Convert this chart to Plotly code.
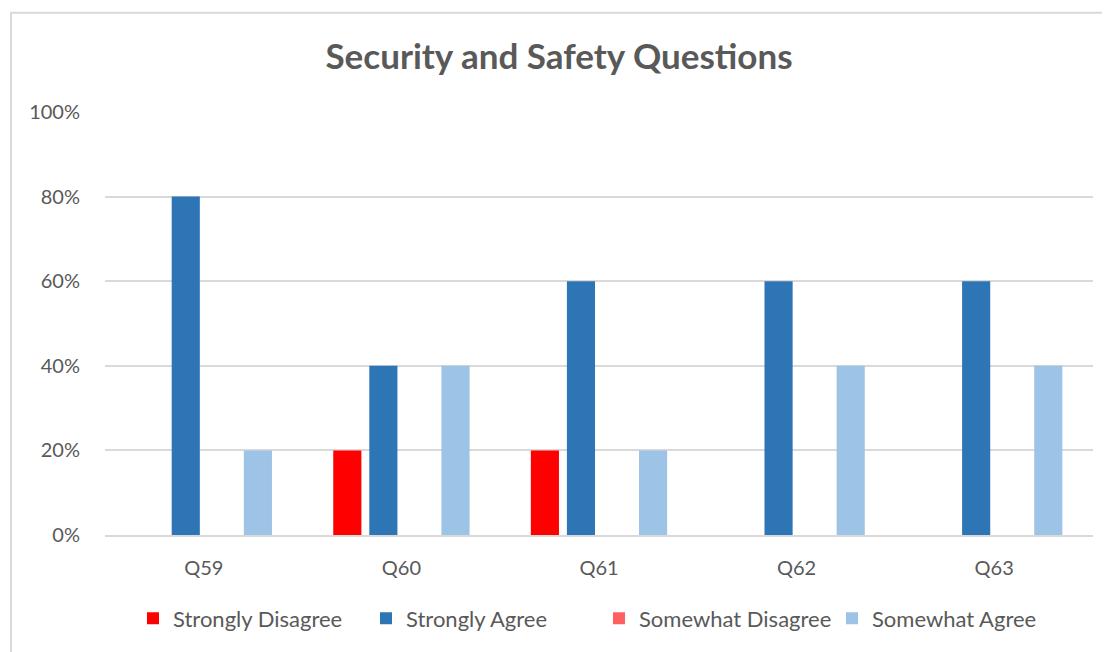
import plotly.graph_objects as go

categories = ["Q59", "Q60", "Q61", "Q62", "Q63"]
strongly_disagree = [0, 20, 20, 0, 0]
strongly_agree = [80, 40, 60, 60, 60]
somewhat_disagree = [0, 0, 0, 0, 0]
somewhat_agree = [20, 40, 20, 40, 40]
y_ticks = [0, 20, 40, 60, 80, 100]
y_tick_labels = ["0%", "20%", "40%", "60%", "80%", "100%"]

series = [
    ("Strongly Disagree", strongly_disagree, "#FF0000"),
    ("Strongly Agree", strongly_agree, "#2E75B6"),
    ("Somewhat Disagree", somewhat_disagree, "#FF5F5F"),
    ("Somewhat Agree", somewhat_agree, "#9DC3E6"),
]

FONT = "Lato, 'Open Sans', sans-serif"
OFF = 8  # page body margin
W, H = 1110 - OFF, 652 - OFF
ML, MR, MT, MB = 105 - OFF, 17, 112 - OFF, H - (538 - OFF)
PW, PH = W - ML - MR, H - MT - MB

fig = go.Figure()
for name, vals, col in series:
    fig.add_trace(go.Bar(x=categories, y=vals, name=name, marker=dict(color=col, line=dict(width=0))))

def px_to_paper_x(px):
    return (px - OFF - ML) / PW

def py_to_paper_y(py):
    return (H - MB - (py - OFF)) / PH

fig.update_layout(
    width=W, height=H,
    margin=dict(l=ML, r=MR, t=MT, b=MB),
    paper_bgcolor="white", plot_bgcolor="white",
    barmode="group", bargap=0.27, bargroupgap=0.22,
    title=dict(text="<b>Security and Safety Questions</b>", x=0.5, xanchor="center",
               y=1 - (57 - OFF) / H, yanchor="middle",
               font=dict(family=FONT, size=35, color="#595959")),
    font=dict(family=FONT, color="#595959"),
    xaxis=dict(showgrid=False, showline=True, linecolor="#D9D9D9", linewidth=2,
               tickfont=dict(size=20, color="#595959"), ticklabelstandoff=14, ticks=""),
    yaxis=dict(range=[0, 100], tickvals=y_ticks, ticktext=y_tick_labels,
               showgrid=True, gridcolor="#D9D9D9", gridwidth=1.5, zeroline=False,
               showline=False, tickfont=dict(size=20, color="#595959"),
               ticklabelstandoff=24, ticks=""),
    legend=dict(orientation="h", x=0.5, xanchor="center", y=py_to_paper_y(622), yanchor="middle",
                font=dict(size=22, color="#595959"), itemwidth=30, traceorder="normal",
                entrywidth=188, entrywidthmode="pixels"),
    shapes=[dict(type="rect", xref="paper", yref="paper",
                 x0=px_to_paper_x(11), x1=px_to_paper_x(1118),
                 y0=py_to_paper_y(660), y1=py_to_paper_y(12),
                 line=dict(color="#D9D9D9", width=2), fillcolor="rgba(0,0,0,0)", layer="below")],
)

fig.write_html("out.html")
